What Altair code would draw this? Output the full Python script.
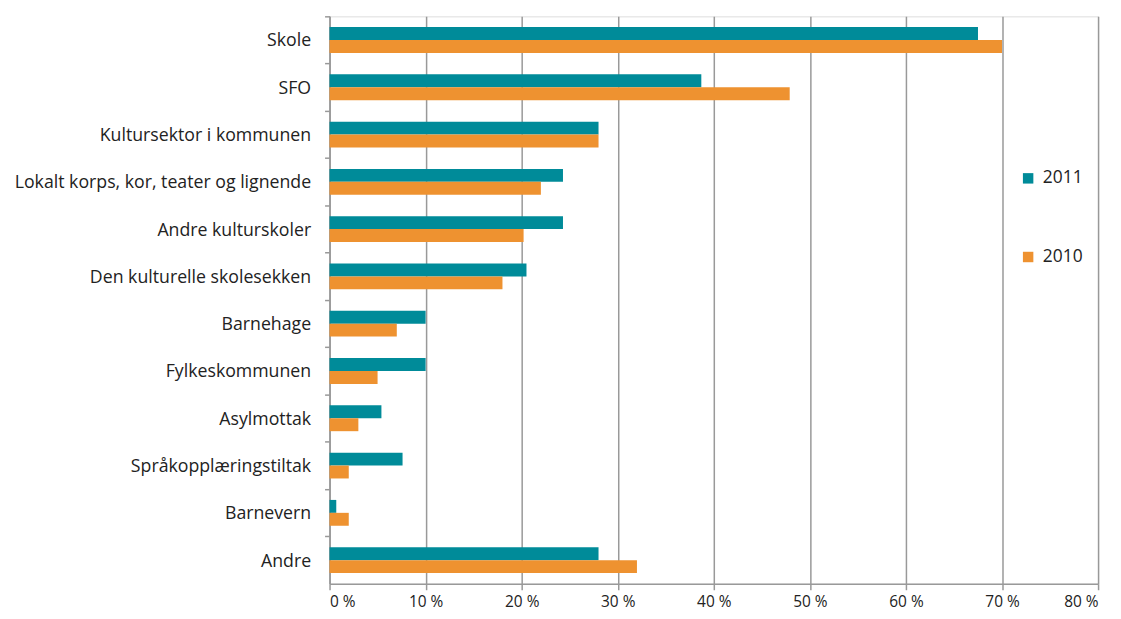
import altair as alt
import pandas as pd

categories = ["Skole", "SFO", "Kultursektor i kommunen", "Lokalt korps, kor, teater og lignende",
              "Andre kulturskoler", "Den kulturelle skolesekken", "Barnehage", "Fylkeskommunen",
              "Asylmottak", "Språkopplæringstiltak", "Barnevern", "Andre"]
values_2011 = [67.5, 38.7, 28.0, 24.3, 24.3, 20.5, 10.0, 10.0, 5.4, 7.6, 0.7, 28.0]
values_2010 = [70.0, 47.9, 28.0, 22.0, 20.2, 18.0, 7.0, 5.0, 3.0, 2.0, 2.0, 32.0]
years = ["2011", "2010"]
colors = ["#008B99", "#EE9230"]
x_ticks = [0, 10, 20, 30, 40, 50, 60, 70, 80]

rows = []
for c, a, b in zip(categories, values_2011, values_2010):
    rows.append({"cat": c, "year": "2011", "val": a})
    rows.append({"cat": c, "year": "2010", "val": b})
df = pd.DataFrame(rows)

FONT = "Open Sans"

chart = alt.Chart(df).mark_bar().encode(
    y=alt.Y("cat:N", sort=categories, title=None,
            scale=alt.Scale(paddingInner=0, paddingOuter=0),
            axis=alt.Axis(bandPosition=0, tickSize=5, labelPadding=14, labelFontSize=17.8,
                          labelOffset=1.5,
                          labelColor="#222", domainColor="#999", tickColor="#999",
                          domainWidth=1.5, tickWidth=1.5, labelLimit=400, grid=False)),
    yOffset=alt.YOffset("year:N", sort=years,
                        scale=alt.Scale(paddingInner=0, paddingOuter=0.83)),
    x=alt.X("val:Q", title=None, scale=alt.Scale(domain=[0, 80], nice=False),
            axis=alt.Axis(values=x_ticks, labelExpr="datum.value + ' %'", tickSize=6,
                          labelPadding=5, labelFontSize=15.5, labelColor="#222",
                          domainColor="#999", tickColor="#999", domainWidth=1.5, tickWidth=1.5,
                          grid=True, gridColor="#999999", gridWidth=1.5)),
    color=alt.Color("year:N", sort=years,
                    scale=alt.Scale(domain=years, range=colors),
                    legend=alt.Legend(title=None, orient="none", legendX=693, legendY=154,
                                      symbolType="square", symbolSize=110, symbolStrokeWidth=0,
                                      labelFontSize=17.5, labelColor="#222", rowPadding=60,
                                      labelOffset=6)),
).properties(
    width=772, height=570,
    padding={"left": 323, "top": 7, "right": 15, "bottom": 30},
    autosize=alt.AutoSizeParams(type="none"),
).configure_view(stroke=None).configure(font=FONT)

chart.save("out.html", embed_options={"renderer": "svg", "actions": False})
